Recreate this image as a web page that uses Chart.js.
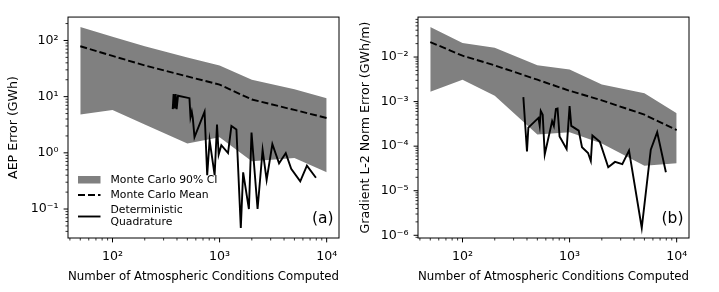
<!DOCTYPE html>
<html>
<head>
<meta charset="utf-8">
<script src="https://cdn.jsdelivr.net/npm/chart.js@4.4.1/dist/chart.umd.min.js"></script>
<style>
  html, body { margin: 0; padding: 0; background: #fff; }
  #wrap { position: relative; width: 719px; height: 292px; }
  canvas { position: absolute; top: 0; }
</style>
</head>
<body>
<div id="wrap">
  <canvas id="aep" width="356" height="292" style="left:0"></canvas>
  <canvas id="grad" width="363" height="292" style="left:356px"></canvas>
</div>
<script>
// Monte Carlo sample counts
const mcN = [50, 100, 200, 500, 1000, 2000, 5000, 10000];

// (a) AEP error (GWh)
const aepUpper = [173, 117, 79, 50, 36, 20, 13.5, 9.4];
const aepLower = [4.8, 5.8, 3.2, 1.47, 1.9, 0.71, 0.81, 0.45];
const aepMean = [79, 53, 36, 22.9, 16.4, 8.9, 5.8, 4.17];
const detNA = [365, 372, 380, 389, 397, 409, 523, 535, 550, 562, 583, 724, 766, 807, 899, 946, 980, 1038, 1199, 1289,
  1436, 1578, 1660, 1878, 1987, 2263, 2522, 2750, 3110, 3593, 4150, 4665, 5665, 6540, 7940];
const detA = [6.0, 11.1, 6.2, 11.1, 6.0, 10.4, 9.4, 4.3, 5.4, 4.2, 1.9, 5.4, 0.40, 1.67, 0.40, 3.2, 0.93, 1.37, 0.99, 3.0,
  2.6, 0.046, 0.45, 0.10, 2.3, 0.10, 1.13, 0.33, 1.43, 0.65, 0.99, 0.52, 0.31, 0.59, 0.36];

// (b) gradient L-2 norm error (GWh/m)
const gradUpper = [0.047, 0.0207, 0.0161, 0.0065, 0.00526, 0.00242, 0.00153, 0.00055];
const gradLower = [0.00166, 0.0031, 0.00136, 0.000183, 0.000205, 0.000115, 3.63e-5, 4.15e-5];
const gradMean = [0.0217, 0.0107, 0.0065, 0.0031, 0.00175, 0.00107, 0.000508, 0.00023];
const detNB = [370, 400, 412, 512, 526, 538, 561, 586, 687, 713, 745, 772, 806, 938, 1000, 1037, 1217, 1306, 1488, 1578,
  1633, 1918, 2296, 2654, 3107, 3589, 4720, 5730, 6580, 7930];
const detB = [1.26e-3, 7.6e-5, 2.6e-4, 4.3e-4, 2.85e-4, 6.2e-4, 5.1e-4, 6.5e-5, 3.65e-4, 2.85e-4, 6.8e-4, 7.0e-4, 1.66e-4,
  8.6e-5, 7.9e-4, 2.85e-4, 2.23e-4, 9.5e-5, 7.0e-5, 4.65e-5, 1.74e-4, 1.25e-4, 3.36e-5, 4.43e-5, 3.95e-5, 8.0e-5, 1.46e-6,
  8.3e-5, 2.05e-4, 2.6e-5];

// tick labels (decades)
const xTicks = [100, 1000, 10000];
const yTicksA = [0.1, 1, 10, 100];
const yTicksB = [1e-6, 1e-5, 1e-4, 1e-3, 1e-2];

const legendLabels = ['Monte Carlo 90% CI', 'Monte Carlo Mean', ['Deterministic', 'Quadrature']];

Chart.defaults.font.family = '"DejaVu Sans", sans-serif';
Chart.defaults.color = '#000';

const sup = { '-': '\u207B', '0': '\u2070', '1': '\u00B9', '2': '\u00B2', '3': '\u00B3', '4': '\u2074',
  '5': '\u2075', '6': '\u2076', '7': '\u2077', '8': '\u2078', '9': '\u2079' };
const pow10 = v => '10' + String(Math.round(Math.log10(v))).split('').map(c => sup[c]).join('');
const pts = (xs, ys) => xs.map((x, i) => ({ x, y: ys[i] }));
const GREY = 'rgb(128,128,128)';

// box, log tick marks, panel letter, optional legend
const frame = {
  id: 'frame',
  afterDraw(chart, args, opts) {
    const { ctx, chartArea: a } = chart;
    ctx.save();
    ctx.strokeStyle = '#000';
    ctx.lineWidth = 1;
    ctx.strokeRect(a.left, a.top, a.right - a.left, a.bottom - a.top);
    for (const s of [chart.scales.x, chart.scales.y]) {
      const lo = Math.floor(Math.log10(s.min)), hi = Math.ceil(Math.log10(s.max));
      for (let e = lo; e <= hi; e++) {
        for (let m = 1; m < 10; m++) {
          const v = m * Math.pow(10, e);
          if (v < s.min || v > s.max) continue;
          const p = s.getPixelForValue(v);
          const len = m === 1 ? 4.4 : 2.5;
          ctx.lineWidth = m === 1 ? 1 : 0.8;
          ctx.beginPath();
          if (s.isHorizontal()) { ctx.moveTo(p, a.bottom); ctx.lineTo(p, a.bottom + len); }
          else { ctx.moveTo(a.left, p); ctx.lineTo(a.left - len, p); }
          ctx.stroke();
        }
      }
    }
    ctx.fillStyle = '#000';
    ctx.font = '15.5px "DejaVu Sans"';
    ctx.textAlign = 'right';
    ctx.textBaseline = 'middle';
    ctx.fillText(opts.letter, a.right - 5.5, a.bottom - 19);

    if (opts.legend) {
      const x0 = a.left + 10, x1 = x0 + 22.5, tx = a.left + 42.5;
      ctx.fillStyle = GREY;
      ctx.fillRect(x0, 176, x1 - x0, 7.5);
      ctx.strokeStyle = '#000';
      ctx.lineWidth = 1.9;
      ctx.setLineDash([7, 3]);
      ctx.beginPath(); ctx.moveTo(x0, 195); ctx.lineTo(x1, 195); ctx.stroke();
      ctx.setLineDash([]);
      ctx.beginPath(); ctx.moveTo(x0, 216.5); ctx.lineTo(x1, 216.5); ctx.stroke();
      ctx.fillStyle = '#000';
      ctx.font = '10.8px "DejaVu Sans"';
      ctx.textAlign = 'left';
      ctx.fillText(legendLabels[0], tx, 180);
      ctx.fillText(legendLabels[1], tx, 195.5);
      ctx.fillText(legendLabels[2][0], tx, 210.5);
      ctx.fillText(legendLabels[2][1], tx, 222);
    }
    ctx.restore();
  }
};

function makePanel(id, o) {
  return new Chart(document.getElementById(id), {
    type: 'line',
    data: {
      datasets: [
        { data: pts(o.detN, o.det), borderColor: '#000', borderWidth: 1.9 },
        { data: pts(mcN, o.mean), borderColor: '#000', borderWidth: 1.9, borderDash: [7, 3] },
        { data: pts(mcN, o.upper), borderWidth: 0, borderColor: GREY, backgroundColor: GREY, fill: '+1' },
        { data: pts(mcN, o.lower), borderWidth: 0, borderColor: GREY }
      ]
    },
    options: {
      responsive: false,
      animation: false,
      events: [],
      layout: { padding: o.pad },
      elements: { point: { radius: 0 }, line: { tension: 0 } },
      plugins: {
        legend: { display: false },
        tooltip: { enabled: false },
        frame: { letter: o.letter, legend: o.legend }
      },
      scales: {
        x: {
          type: 'logarithmic',
          min: 38.4,
          max: 13036,
          afterBuildTicks: s => { s.ticks = xTicks.map(v => ({ value: v })); },
          afterFit: s => { s.height = 54; },
          grid: { display: false, drawTicks: false },
          border: { display: false },
          ticks: { autoSkip: false, maxRotation: 0, padding: 11, font: { size: 12.6 }, callback: v => pow10(v) },
          title: { display: true, text: 'Number of Atmospheric Conditions Computed', font: { size: 12.6 },
            padding: { top: 0, bottom: 8 } }
        },
        y: {
          type: 'logarithmic',
          min: o.yMin,
          max: o.yMax,
          afterBuildTicks: s => { s.ticks = o.yTicks.map(v => ({ value: v })); },
          afterFit: s => { s.width = o.yWidth; },
          grid: { display: false, drawTicks: false },
          border: { display: false },
          ticks: { autoSkip: false, padding: 9.5, font: { size: 12.6 }, callback: v => pow10(v) },
          title: { display: true, text: o.yTitle, font: { size: 12.6 }, padding: { top: o.titlePad, bottom: 0 } }
        }
      }
    },
    plugins: [frame]
  });
}

makePanel('aep', {
  detN: detNA, det: detA, mean: aepMean, upper: aepUpper, lower: aepLower,
  yMin: 0.0305, yMax: 261, yTicks: yTicksA, yWidth: 68, titlePad: 6.4,
  yTitle: 'AEP Error (GWh)', letter: '(a)', legend: true,
  pad: { top: 7, right: 17, bottom: 0, left: 0 }
});

makePanel('grad', {
  detN: detNB, det: detB, mean: gradMean, upper: gradUpper, lower: gradLower,
  yMin: 8.69e-7, yMax: 0.0789, yTicks: yTicksB, yWidth: 62, titlePad: 2.4,
  yTitle: 'Gradient L-2 Norm Error (GWh/m)', letter: '(b)', legend: false,
  pad: { top: 7, right: 30, bottom: 0, left: 0 }
});
</script>
</body>
</html>
